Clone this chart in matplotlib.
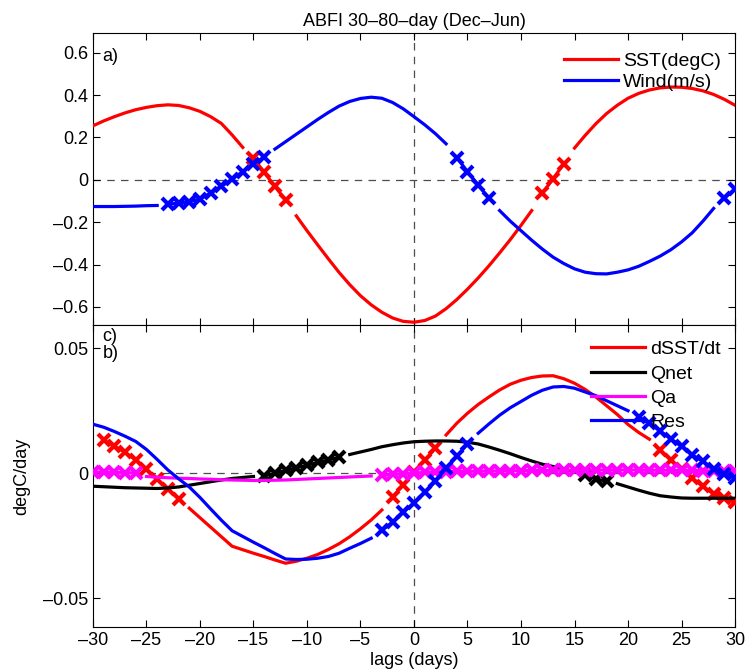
import numpy as np
import matplotlib
matplotlib.use("Agg")
import matplotlib.pyplot as plt
from matplotlib.lines import Line2D

plt.rcParams['font.family'] = ['Liberation Sans', 'DejaVu Sans']
plt.rcParams['font.size'] = 13

lags = np.arange(-30, 31)

# panel a) SST (degC) and wind (m/s), daily lags -30..30
sst = [0.255, 0.278, 0.298, 0.316, 0.331, 0.342, 0.350, 0.354, 0.351, 0.340,
       0.323, 0.298, 0.266, 0.212, 0.153, 0.102, 0.035, -0.031, -0.096, -0.170,
       -0.240, -0.307, -0.373, -0.437, -0.495, -0.547, -0.590, -0.625, -0.652, -0.668,
       -0.672, -0.664, -0.643, -0.608, -0.565, -0.516, -0.463, -0.406, -0.345, -0.282,
       -0.215, -0.145, -0.063, 0.005, 0.076, 0.150, 0.210, 0.265, 0.313, 0.352,
       0.385, 0.408, 0.424, 0.434, 0.438, 0.437, 0.431, 0.420, 0.403, 0.380, 0.352]
wind = [-0.126, -0.126, -0.126, -0.125, -0.124, -0.122, -0.121, -0.115, -0.110, -0.104,
        -0.090, -0.063, -0.031, 0.003, 0.039, 0.076, 0.107, 0.145, 0.180, 0.215,
        0.250, 0.285, 0.318, 0.348, 0.370, 0.384, 0.390, 0.385, 0.365, 0.335,
        0.298, 0.260, 0.218, 0.170, 0.105, 0.039, -0.024, -0.087, -0.145, -0.195,
        -0.240, -0.285, -0.327, -0.365, -0.395, -0.420, -0.436, -0.443, -0.444, -0.436,
        -0.425, -0.408, -0.385, -0.360, -0.330, -0.293, -0.250, -0.195, -0.135, -0.087, -0.044]

# panel b) heat budget terms (degC/day)
dsst = [0.0144, 0.0131, 0.0109, 0.0083, 0.0053, 0.0016, -0.0024, -0.0064, -0.0103, -0.0140,
        -0.0178, -0.0216, -0.0254, -0.0292, -0.0306, -0.0320, -0.0333, -0.0347, -0.0360, -0.0352,
        -0.0340, -0.0325, -0.0305, -0.0282, -0.0254, -0.0222, -0.0187, -0.0147, -0.0094, -0.0047,
        0.0006, 0.0051, 0.0100, 0.0153, 0.0200, 0.0240, 0.0275, 0.0305, 0.0333, 0.0356,
        0.0372, 0.0383, 0.0389, 0.0390, 0.0378, 0.0360, 0.0335, 0.0305, 0.0270, 0.0235,
        0.0195, 0.0163, 0.0136, 0.0093, 0.0053, 0.0016, -0.0020, -0.0053, -0.0083, -0.0100, -0.0117]
qnet = [-0.0052, -0.0054, -0.0056, -0.0058, -0.0059, -0.0060, -0.0061, -0.0059, -0.0055, -0.0048,
        -0.0041, -0.0034, -0.0027, -0.0021, -0.0017, -0.0013, -0.0011, 0.0000, 0.0011, 0.0022,
        0.0032, 0.0043, 0.0053, 0.0064, 0.0075, 0.0085, 0.0095, 0.0106, 0.0114, 0.0121,
        0.0126, 0.0128, 0.0129, 0.0129, 0.0128, 0.0124, 0.0117, 0.0105, 0.0092, 0.0078,
        0.0063, 0.0049, 0.0036, 0.0027, 0.0018, 0.0005, -0.0008, -0.0022, -0.0033, -0.0042,
        -0.0055, -0.0068, -0.0080, -0.0090, -0.0095, -0.0099, -0.0100, -0.0100, -0.0100, -0.0100, -0.0100]
qa = [0.0005, 0.0004, 0.0003, 0.0002, 0.0001, -0.0013, -0.0016, -0.0018, -0.0020, -0.0021,
      -0.0023, -0.0024, -0.0026, -0.0027, -0.0028, -0.0029, -0.0029, -0.0028, -0.0027, -0.0025,
      -0.0023, -0.0021, -0.0019, -0.0017, -0.0015, -0.0013, -0.0011, -0.0008, -0.0005, -0.0002,
      0.0001, 0.0003, 0.0005, 0.0006, 0.0007, 0.0008, 0.0008, 0.0009, 0.0009, 0.0010,
      0.0010, 0.0011, 0.0011, 0.0012, 0.0012, 0.0012, 0.0012, 0.0013, 0.0013, 0.0013,
      0.0013, 0.0013, 0.0012, 0.0012, 0.0012, 0.0011, 0.0011, 0.0010, 0.0009, 0.0008, 0.0007]
res = [0.0196, 0.0184, 0.0167, 0.0148, 0.0127, 0.0095, 0.0055, 0.0013, -0.0022, -0.0055,
       -0.0097, -0.0143, -0.0188, -0.0230, -0.0253, -0.0276, -0.0298, -0.0321, -0.0343, -0.0345,
       -0.0344, -0.0340, -0.0333, -0.0320, -0.0300, -0.0281, -0.0260, -0.0229, -0.0195, -0.0157,
       -0.0118, -0.0077, -0.0033, 0.0020, 0.0067, 0.0117, 0.0160, 0.0197, 0.0232, 0.0262,
       0.0287, 0.0312, 0.0332, 0.0345, 0.0347, 0.0340, 0.0325, 0.0310, 0.0290, 0.0270,
       0.0250, 0.0223, 0.0200, 0.0169, 0.0137, 0.0107, 0.0073, 0.0047, 0.0016, -0.0003, -0.0020]

# lag ranges marked significant (drawn with x markers)
sst_sig = [(-15, -12), (12, 14)]
wind_sig = [(-23, -14), (4, 7), (29, 30)]
dsst_sig = [(-29, -22), (-2, 2), (23, 30)]
qnet_sig = [(-14, -7), (16, 18)]
qa_sig = [(-30, -26), (-3, 30)]
res_sig = [(-3, 5), (21, 30)]

MINUS = '\u2013'


def sig_mask(ranges):
    m = np.zeros(len(lags), dtype=bool)
    for a, b in ranges:
        m[(lags >= a) & (lags <= b)] = True
    return m


def plot_runs(ax, y, ranges, color):
    y = np.asarray(y)
    sig = sig_mask(ranges)
    start = 0
    for i in range(1, len(lags) + 1):
        if i == len(lags) or sig[i] != sig[start]:
            mk = 'x' if sig[start] else None
            ax.plot(lags[start:i], y[start:i], color=color, lw=2.3, marker=mk,
                    ms=8, mew=3, zorder=3)
            start = i


def style(ax):
    ax.set_xlim(-30, 30)
    ax.set_xticks(np.arange(-30, 31, 5))
    ax.tick_params(direction='in', top=True, right=True, length=5, labelsize=13)
    ax.axvline(0, color='0.3', lw=0.9, ls=(0, (6, 5)), zorder=1)
    ax.axhline(0, color='0.3', lw=0.9, ls=(0, (6, 5)), zorder=1)


fig = plt.figure(figsize=(7.45, 6.72), dpi=100)
ax1 = fig.add_axes([0.1248, 0.5164, 0.8618, 0.4345])
ax2 = fig.add_axes([0.1248, 0.0670, 0.8618, 0.4494])

plot_runs(ax1, sst, sst_sig, 'red')
plot_runs(ax1, wind, wind_sig, 'blue')
style(ax1)
ax1.set_ylim(-0.685, 0.693)
yt1 = [-0.6, -0.4, -0.2, 0, 0.2, 0.4, 0.6]
ax1.set_yticks(yt1)
ax1.set_yticklabels(['0' if v == 0 else ('%.1f' % v).replace('-', MINUS) for v in yt1])
ax1.set_xticklabels([])
ax1.text(0.015, 0.92, 'a)', transform=ax1.transAxes, fontsize=13, va='center')
ax1.set_title('ABFI 30' + MINUS + '80' + MINUS + 'day (Dec' + MINUS + 'Jun)', fontsize=13, pad=5)
h1 = [Line2D([], [], color='red', lw=2.3), Line2D([], [], color='blue', lw=2.3)]
ax1.legend(h1, ['SST(degC)', 'Wind(m/s)'], loc='upper right', frameon=False,
           fontsize=14, handlelength=2.8, handletextpad=0.26, labelspacing=0.2,
           borderpad=0, borderaxespad=0, bbox_to_anchor=(0.978, 0.935))

plot_runs(ax2, dsst, dsst_sig, 'red')
plot_runs(ax2, qnet, qnet_sig, 'black')
plot_runs(ax2, qa, qa_sig, 'magenta')
plot_runs(ax2, res, res_sig, 'blue')
style(ax2)
ax2.set_ylim(-0.0615, 0.0593)
ax2.set_yticks([-0.05, 0, 0.05])
ax2.set_yticklabels([MINUS + '0.05', '0', '0.05'])
xt = np.arange(-30, 31, 5)
ax2.set_xticklabels([str(v).replace('-', MINUS) for v in xt])
ax2.text(0.015, 0.961, 'c)', transform=ax2.transAxes, fontsize=13, va='center')
ax2.text(0.015, 0.907, 'b)', transform=ax2.transAxes, fontsize=13, va='center')
ax2.set_xlabel('lags (days)', fontsize=13, labelpad=2)
ax2.set_ylabel('degC/day', fontsize=13, labelpad=9)
h2 = [Line2D([], [], color=c, lw=2.3) for c in ['red', 'black', 'magenta', 'blue']]
ax2.legend(h2, ['dSST/dt', 'Qnet', 'Qa', 'Res'], loc='upper right', frameon=False,
           fontsize=14, handlelength=2.8, handletextpad=0.26, labelspacing=0.34,
           borderpad=0, borderaxespad=0, bbox_to_anchor=(0.978, 0.948))

fig.savefig('out.png', dpi=100)
